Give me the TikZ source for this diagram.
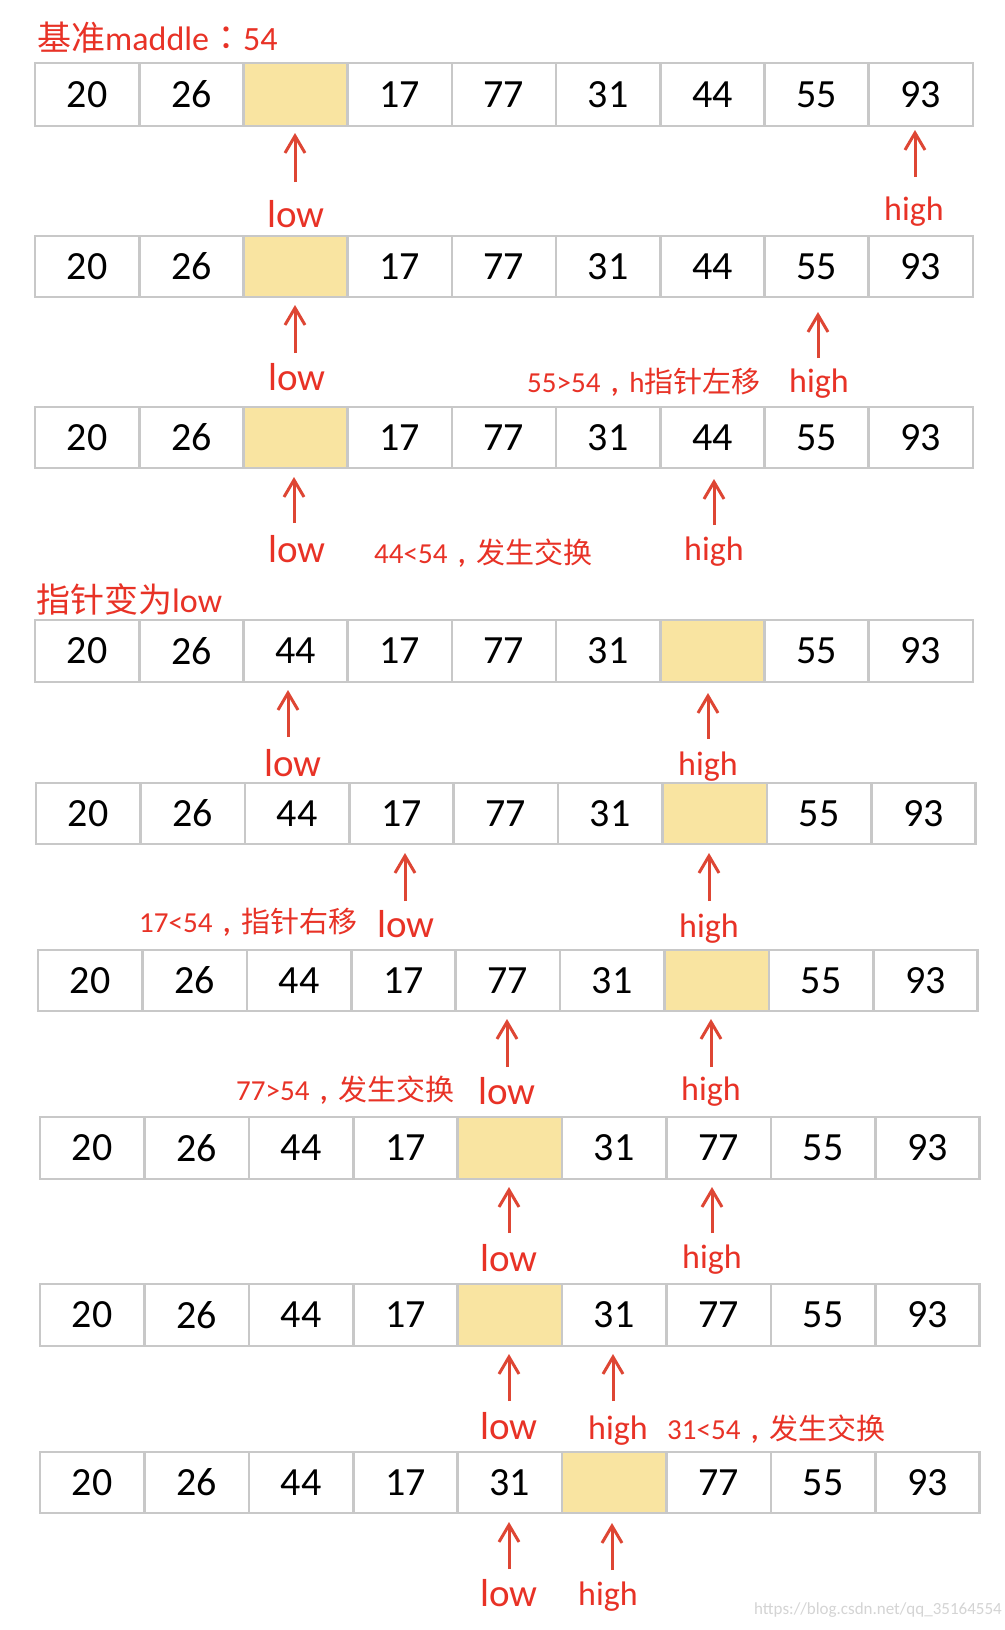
\documentclass[tikz,border=0pt]{standalone}
\usepackage{fontspec}
\setmainfont{Carlito}
\newfontfamily\cjk{Noto Sans CJK SC}
\newfontfamily\cjkp{Noto Sans CJK TC}
\usetikzlibrary{arrows.meta,calc}
\definecolor{cellgray}{RGB}{200,200,200}
\definecolor{hl}{RGB}{249,228,161}
\definecolor{arrred}{RGB}{222,70,52}
\definecolor{txtred}{RGB}{232,50,38}
\definecolor{wmgray}{RGB}{212,212,212}
\newcommand\fwcomma{\makebox[1em][c]{\bfseries ,}}
\tikzset{
  cell/.style={draw=cellgray, line width=2.6pt, inner sep=0pt, outer sep=0pt,
    anchor=north west, font=\fontsize{40}{48}\selectfont},
  ptr/.style={draw=arrred, line width=3pt, -{Straight Barb[length=17pt,width=20pt]}},
  lowlbl/.style={text=txtred, inner sep=0pt, anchor=base, font=\fontsize{39}{46}\selectfont},
  highlbl/.style={text=txtred, inner sep=0pt, anchor=base, font=\fontsize{34}{40}\selectfont},
  notelbl/.style={text=txtred, inner sep=0pt, anchor=base west, font=\fontsize{29}{34}\selectfont},
  headlbl/.style={text=txtred, inner sep=0pt, anchor=base west, font=\fontsize{34}{40}\selectfont},
  wmlbl/.style={text=wmgray, inner sep=0pt, anchor=base east, font=\fontsize{17}{20}\selectfont},
}
% #1 name, #2 left x, #3 top y, #4 height, #5 cell width, #6 highlighted index, #7 values
\newcommand\cellrow[7]{%
  \foreach \v [count=\i] in {#7} {%
    \ifnum\i=#6 \def\cfill{hl}\else\def\cfill{white}\fi
    \node[cell, fill=\cfill, minimum width=#5pt, minimum height=#4pt]
      (#1c\i) at ({#2+(\i-1)*#5},#3) {\v};
  }%
}
% #1 name, #2 x, #3 tail y, #4 tip y
\newcommand\ptrarrow[4]{%
  \coordinate (#1s) at (#2,#3);
  \coordinate (#1e) at (#2,#4);
  \draw[ptr] (#1s) -- (#1e);
}
\begin{document}
\begin{tikzpicture}[x=1pt,y=-1pt]
\useasboundingbox (0,0) rectangle (1004,1630);
\fill[white] (0,0) rectangle (1004,1630);

% headings
\node[headlbl] (head1) at (37,50) {{\cjk 基准}maddle{\cjkp ：}54};
\node[headlbl] (head2) at (36,612) {{\cjk 指针变为}low};

% rows
\cellrow{ra}{35}{63}{63}{104.2}{3}{20,26,{},17,77,31,44,55,93}
\cellrow{rb}{35}{236}{61}{104.2}{3}{20,26,{},17,77,31,44,55,93}
\cellrow{rc}{35}{407}{61}{104.2}{3}{20,26,{},17,77,31,44,55,93}
\cellrow{rd}{35}{620}{62}{104.2}{7}{20,26,44,17,77,31,{},55,93}
\cellrow{re}{36}{783}{61}{104.4}{7}{20,26,44,17,77,31,{},55,93}
\cellrow{rf}{38}{950}{61}{104.4}{7}{20,26,44,17,77,31,{},55,93}
\cellrow{rg}{40}{1117}{62}{104.4}{5}{20,26,44,17,{},31,77,55,93}
\cellrow{rh}{40}{1284}{62}{104.4}{5}{20,26,44,17,{},31,77,55,93}
\cellrow{ri}{40}{1452}{61}{104.4}{6}{20,26,44,17,31,{},77,55,93}

% row 1 pointers
\ptrarrow{pa1}{295}{182}{133}
\ptrarrow{pa2}{915}{177}{130}
\node[lowlbl] (la) at (296,227) {low};
\node[highlbl] (ha) at (914,220) {high};

% row 2 pointers
\ptrarrow{pb1}{295}{353}{305}
\ptrarrow{pb2}{818}{358}{312}
\node[lowlbl] (lb) at (297,390) {low};
\node[notelbl] (nb) at (527,392) {55>54\fwcomma h{\cjk 指针左移}};
\node[highlbl] (hb) at (819,392) {high};

% row 3 pointers
\ptrarrow{pc1}{294}{523}{477}
\ptrarrow{pc2}{714}{525}{479}
\node[lowlbl] (lc) at (297,562) {low};
\node[notelbl] (nc) at (374,563) {44<54\fwcomma{\cjk 发生交换}};
\node[highlbl] (hc) at (714,560) {high};

% row 4 pointers
\ptrarrow{pd1}{288}{737}{690}
\ptrarrow{pd2}{708}{739}{693}
\node[lowlbl] (ld) at (293,776) {low};
\node[highlbl] (hd) at (708,775) {high};

% row 5 pointers
\ptrarrow{pe1}{405}{901}{853}
\ptrarrow{pe2}{709}{901}{853}
\node[notelbl] (ne) at (139,932) {17<54\fwcomma{\cjk 指针右移}};
\node[lowlbl] (le) at (406,937) {low};
\node[highlbl] (he) at (709,937) {high};

% row 6 pointers
\ptrarrow{pf1}{507}{1067}{1019}
\ptrarrow{pf2}{711}{1067}{1019}
\node[notelbl] (nf) at (236,1100) {77>54\fwcomma{\cjk 发生交换}};
\node[lowlbl] (lf) at (507,1104) {low};
\node[highlbl] (hf) at (711,1100) {high};

% row 7 pointers
\ptrarrow{pg1}{509}{1233}{1187}
\ptrarrow{pg2}{712}{1233}{1187}
\node[lowlbl] (lg) at (509,1271) {low};
\node[highlbl] (hg) at (712,1268) {high};

% row 8 pointers
\ptrarrow{ph1}{509}{1401}{1354}
\ptrarrow{ph2}{613}{1401}{1354}
\node[lowlbl] (lh) at (509,1439) {low};
\node[highlbl] (hh) at (618,1439) {high};
\node[notelbl] (nh) at (667,1439) {31<54\fwcomma{\cjk 发生交换}};

% row 9 pointers
\ptrarrow{pi1}{509}{1569}{1522}
\ptrarrow{pi2}{612}{1570}{1523}
\node[lowlbl] (li) at (509,1606) {low};
\node[highlbl] (hi) at (608,1605) {high};

% watermark
\node[wmlbl] (wm) at (1002,1614) {https://blog.csdn.net/qq\_35164554};
\end{tikzpicture}
\end{document}
